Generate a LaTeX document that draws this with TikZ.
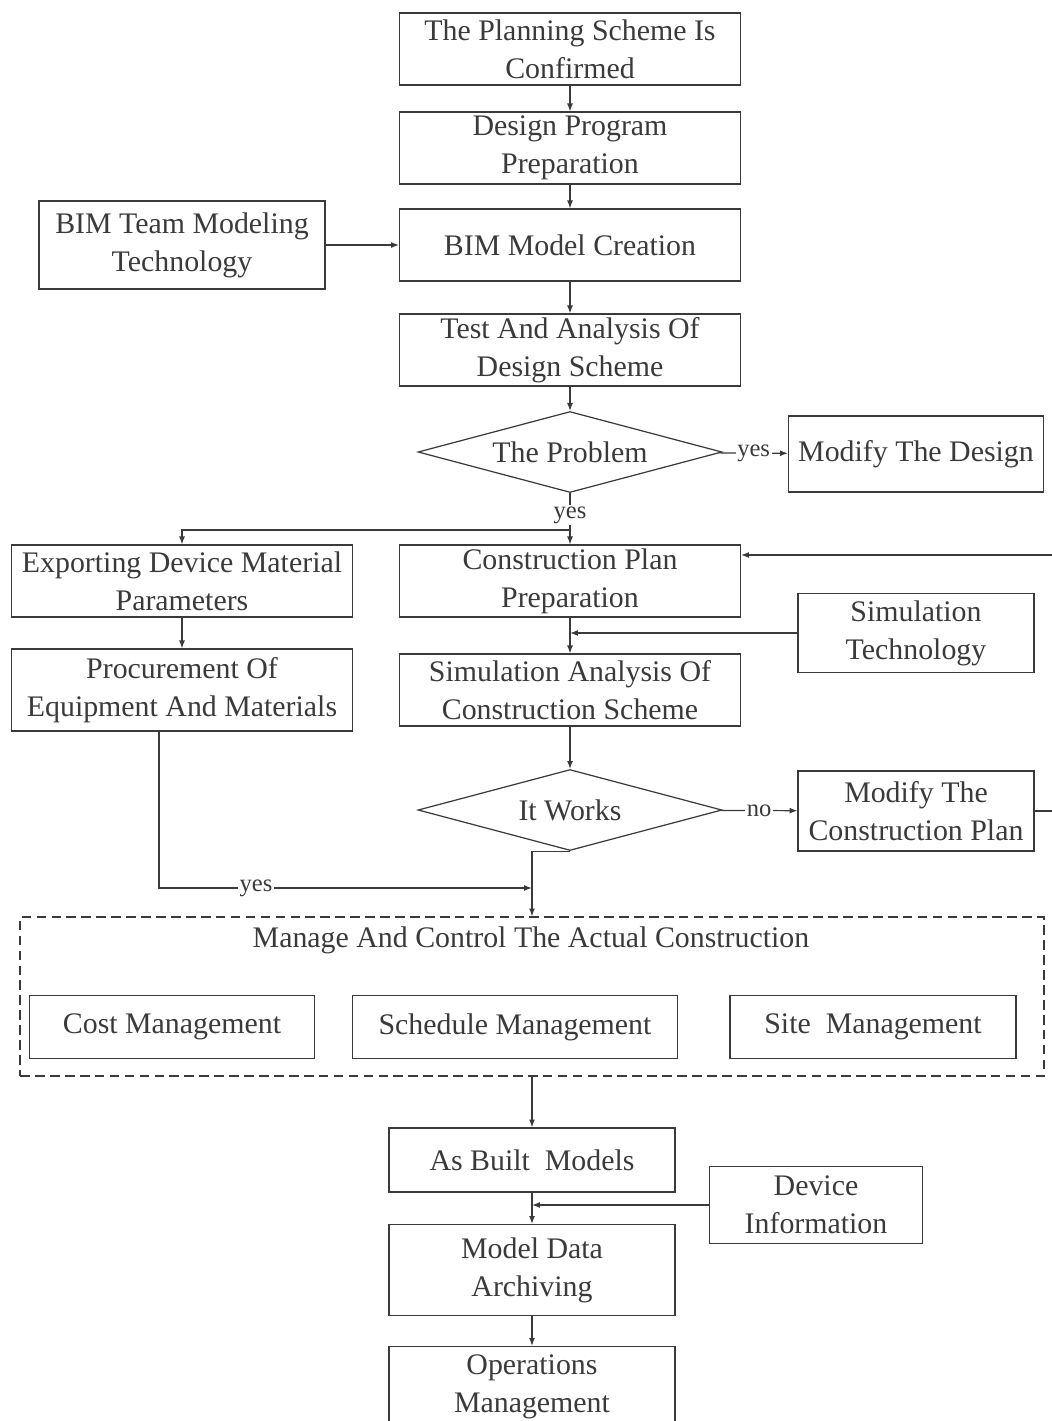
\documentclass[tikz,border=0pt]{standalone}
\usepackage{fontspec}
\setmainfont{Liberation Serif}
\usetikzlibrary{arrows.meta,shapes.geometric}
\definecolor{ink}{HTML}{3A3A3A}

\begin{document}
\begin{tikzpicture}[x=0.02cm, y=-0.02cm,
    font=\fontsize{17}{21.6}\selectfont, text=ink,
    box/.style={draw=ink, line width=0.7pt, align=center, inner sep=0pt},
    mainbox/.style={box, minimum width=6.82cm, minimum height=1.44cm},
    choice/.style={box, diamond, aspect=3.75, minimum width=6.08cm, minimum height=1.62cm},
    link/.style={draw=ink, line width=0.7pt, -{Latex[length=4.5pt,width=3.4pt]}},
    plain/.style={draw=ink, line width=0.7pt},
    tag/.style={fill=white, inner sep=1pt, font=\fontsize{14}{16}\selectfont}]

\useasboundingbox (0,0) rectangle (1052,1421);

% Main column
\node[mainbox] (confirm) at (570,49) {The Planning Scheme Is\\Confirmed};
\node[mainbox] (prep) at (570,148) {Design Program\\Preparation};
\node[mainbox] (create) at (570,245) {BIM Model Creation};
\node[mainbox] (test) at (570,350) {Test And Analysis Of\\Design Scheme};
\node[choice] (problem) at (570,452) {The Problem};
\node[mainbox] (plan) at (570,581) {Construction Plan\\Preparation};
\node[mainbox] (simul) at (570,690) {Simulation Analysis Of\\Construction Scheme};
\node[choice] (works) at (570,810) {It Works};

% Side boxes
\node[box, minimum width=5.72cm, minimum height=1.76cm] (team) at (182,245) {BIM Team Modeling\\Technology};
\node[box, minimum width=5.10cm, minimum height=1.52cm] (redesign) at (916,454) {Modify The Design};
\node[mainbox] (export) at (182,581) {Exporting Device Material\\Parameters};
\node[box, minimum width=6.82cm, minimum height=1.64cm] (procure) at (182,690) {Procurement Of\\Equipment And Materials};
\node[box, minimum width=4.72cm, minimum height=1.58cm] (simtech) at (916,633) {Simulation\\Technology};
\node[box, minimum width=4.72cm, minimum height=1.60cm] (replan) at (916,811) {Modify The\\Construction Plan};

% Construction management (dashed frame)
\node[draw=ink, line width=0.7pt, dash pattern=on 5.5pt off 3pt, minimum width=20.48cm, minimum height=3.18cm, inner sep=0pt] (manage) at (532,996.5) {};
\node (managetitle) at (531,940) {Manage And Control The Actual Construction};
\node[box, minimum width=5.70cm, minimum height=1.26cm] (cost) at (172,1027) {Cost Management};
\node[box, minimum width=6.50cm, minimum height=1.26cm] (schedule) at (515,1027) {Schedule Management};
\node[box, minimum width=5.72cm, minimum height=1.26cm] (site) at (873,1027) {Site~~Management};

% Bottom column
\node[box, minimum width=5.72cm, minimum height=1.28cm] (asbuilt) at (532,1160) {As Built~~Models};
\node[box, minimum width=4.26cm, minimum height=1.54cm] (device) at (816,1205) {Device\\Information};
\node[box, minimum width=5.72cm, minimum height=1.82cm] (archive) at (532,1270) {Model Data\\Archiving};
\node[box, minimum width=5.72cm, minimum height=1.62cm] (operate) at (532,1387) {Operations\\Management};

% Connectors
\draw[link] (confirm) -- (prep);
\draw[link] (prep) -- (create);
\draw[link] (team) -- (create);
\draw[link] (create) -- (test);
\draw[link] (test) -- (problem);
\draw[link] (problem) -- node[tag] {yes} (redesign);

\coordinate (fork) at (570,530);
\draw[plain] (problem.south) -- node[tag, pos=0.6] {yes} (fork);
\draw[link] (fork) -| (export.north);
\draw[link] (fork) -- (plan.north);

\draw[link] (export) -- (procure);
\draw[link] (plan) -- (simul);
\draw[link] (simtech.west) -- (simtech.west -| plan.south);
\draw[link] (simul) -- (works);
\draw[link] (works) -- node[tag] {no} (replan);
\draw[link] (replan.east) -- ++(22,0) |- ([yshift=0.52cm]plan.east);

\coordinate (merge) at (532,888);
\draw[link] (works.south) -| (manage.north);
\draw[link] ([xshift=-0.46cm]procure.south) |- node[tag, pos=0.63] {yes} (merge);

\draw[link] (manage.south) -- (asbuilt.north);
\draw[link] (asbuilt) -- (archive);
\draw[link] (device.west) -- (device.west -| asbuilt.south);
\draw[link] (archive) -- (operate);

\end{tikzpicture}
\end{document}
